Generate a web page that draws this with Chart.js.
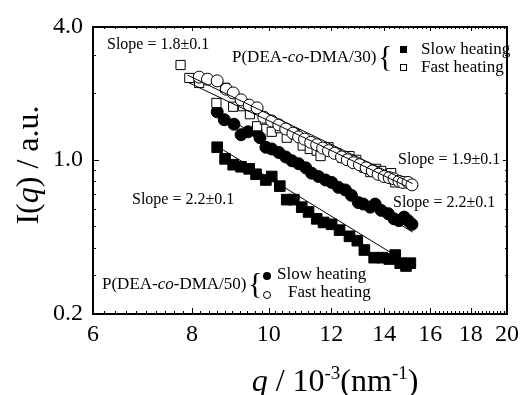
<!DOCTYPE html>
<html>
<head>
<meta charset="utf-8">
<script src="https://cdn.jsdelivr.net/npm/chart.js@4.4.1/dist/chart.umd.min.js"></script>
<style>
  html, body { margin: 0; padding: 0; background: #fff; }
</style>
</head>
<body>
<canvas id="myChart" width="525" height="395"></canvas>
<script>
// q in 10^-3 nm^-1, I(q) in a.u.

// P(DEA-co-DMA/30), slow heating (filled squares)
const qSlow30 = [8.61, 8.81, 9.02, 9.23, 9.45, 9.64, 9.92, 10.09, 10.33, 10.54, 10.76, 11.01, 11.23, 11.50, 11.73, 12.01, 12.29, 12.65, 12.94, 13.21, 13.59, 13.91, 14.20, 14.45, 14.66, 14.91, 15.10];
const iSlow30 = [1.14, 1.01, 0.95, 0.93, 0.91, 0.86, 0.81, 0.84, 0.76, 0.66, 0.66, 0.61, 0.58, 0.54, 0.52, 0.51, 0.48, 0.45, 0.43, 0.39, 0.36, 0.36, 0.355, 0.37, 0.34, 0.33, 0.34];

// P(DEA-co-DMA/30), fast heating (open squares)
const qFast30 = [7.74, 7.94, 8.17, 8.59, 8.81, 9.02, 9.28, 9.47, 9.67, 9.89, 10.09, 10.33, 10.54, 10.79, 11.04, 11.27, 11.50, 11.63, 11.90, 12.18, 12.39, 12.65, 12.90, 13.21, 13.44, 13.67, 13.87, 14.12, 14.28, 14.45];
const iFast30 = [2.69, 2.35, 2.23, 1.81, 2.12, 1.74, 1.75, 1.61, 1.42, 1.52, 1.34, 1.39, 1.26, 1.31, 1.16, 1.12, 1.10, 1.04, 1.14, 1.07, 1.02, 1.04, 1.00, 0.92, 0.88, 0.91, 0.89, 0.84, 0.87, 0.79];

// P(DEA-co-DMA/50), slow heating (filled circles)
const qSlow50 = [8.61, 8.79, 9.04, 9.23, 9.42, 9.64, 9.75, 9.92, 10.09, 10.30, 10.51, 10.70, 10.91, 11.14, 11.33, 11.56, 11.80, 12.01, 12.25, 12.50, 12.72, 12.98, 13.17, 13.44, 13.63, 13.87, 14.16, 14.40, 14.61, 14.83, 15.00, 15.17];
const iSlow50 = [1.65, 1.52, 1.45, 1.30, 1.34, 1.35, 1.26, 1.14, 1.12, 1.08, 1.03, 0.99, 0.96, 0.92, 0.87, 0.84, 0.81, 0.79, 0.75, 0.73, 0.69, 0.64, 0.63, 0.61, 0.63, 0.59, 0.57, 0.54, 0.53, 0.55, 0.53, 0.51];

// P(DEA-co-DMA/50), fast heating (open circles)
const qFast50 = [8.17, 8.37, 8.61, 8.84, 9.02, 9.23, 9.45, 9.67, 9.86, 10.09, 10.30, 10.51, 10.73, 10.91, 11.10, 11.30, 11.50, 11.70, 11.90, 12.11, 12.36, 12.57, 12.79, 13.02, 13.28, 13.52, 13.75, 13.99, 14.20, 14.40, 14.61, 14.78, 15.00, 15.17];
const iFast50 = [2.37, 2.32, 2.28, 2.09, 2.01, 1.87, 1.77, 1.72, 1.56, 1.50, 1.44, 1.38, 1.32, 1.27, 1.24, 1.20, 1.17, 1.13, 1.10, 1.07, 1.03, 1.00, 0.97, 0.95, 0.92, 0.89, 0.86, 0.84, 0.83, 0.82, 0.80, 0.79, 0.79, 0.77];

// power-law fit lines (end points)
const fitQSlow30 = [8.55, 15.2], fitISlow30 = [1.17, 0.33];
const fitQSlow50 = [8.55, 15.2], fitISlow50 = [1.68, 0.47];
const fitQFast50 = [7.9, 15.2],  fitIFast50 = [2.42, 0.78];
const fitQFast30 = [7.9, 14.9],  fitIFast30 = [2.25, 0.76];

// tick labels
const xTickValues = [6, 8, 10, 12, 14, 16, 18, 20];
const yTickValues = [0.2, 1.0, 4.0];

const SERIF = '"Liberation Serif", "Times New Roman", serif';
const pts = (xs, ys) => xs.map((x, i) => ({ x: x, y: ys[i] }));

function fitLine(xs, ys) {
  return {
    type: "line",
    data: pts(xs, ys),
    borderColor: "#000",
    borderWidth: 1,
    pointRadius: 0,
    fill: false,
  };
}

// draw text made of pieces in different fonts
function drawRuns(ctx, runs, x, y) {
  let cx = x;
  runs.forEach(([t, font, dy]) => {
    ctx.font = font;
    ctx.fillText(t, cx, y + (dy || 0));
    cx += ctx.measureText(t).width;
  });
}
function runsWidth(ctx, runs) {
  let w = 0;
  runs.forEach(([t, font]) => { ctx.font = font; w += ctx.measureText(t).width; });
  return w;
}

const f17 = "17px " + SERIF, i17 = "italic 17px " + SERIF;
const f16 = "16px " + SERIF;

const decor = {
  id: "decor",
  afterDraw(chart) {
    const { ctx, chartArea: a, scales: { x, y } } = chart;
    ctx.save();
    ctx.strokeStyle = "#000";
    ctx.fillStyle = "#000";

    // inward ticks, mirrored on top / right
    ctx.lineWidth = 1;
    ctx.beginPath();
    for (let k = 60; k <= 200; k += 2) {
      const v = k / 10;
      const p = Math.round(x.getPixelForValue(v)) + 0.5;
      const len = k % 20 === 0 ? 6 : 3;
      ctx.moveTo(p, a.bottom); ctx.lineTo(p, a.bottom - len);
      ctx.moveTo(p, a.top); ctx.lineTo(p, a.top + (k % 20 === 0 ? 4 : 2));
    }
    const yMinor = [0.2, 0.3, 0.4, 0.5, 0.6, 0.7, 0.8, 0.9, 1, 2, 3, 4];
    yMinor.forEach(v => {
      const p = Math.round(y.getPixelForValue(v)) + 0.5;
      const len = yTickValues.includes(v) ? 6 : 3;
      ctx.moveTo(a.left, p); ctx.lineTo(a.left + len, p);
      ctx.moveTo(a.right, p); ctx.lineTo(a.right - (len === 6 ? 4 : 2), p);
    });
    ctx.stroke();

    // frame
    ctx.lineWidth = 2;
    ctx.strokeRect(a.left, a.top, a.right - a.left, a.bottom - a.top);

    // annotations
    ctx.textBaseline = "middle";
    ctx.textAlign = "left";
    const L = a.left, T = a.top;
    ctx.font = f16;
    ctx.fillText("Slope = 1.8\u00b10.1", L + 14, T + 18);
    ctx.fillText("Slope = 1.9\u00b10.1", L + 305, T + 133);
    ctx.fillText("Slope = 2.2\u00b10.1", L + 300, T + 176);
    ctx.fillText("Slope = 2.2\u00b10.1", L + 39, T + 173);

    // legend block for /30
    drawRuns(ctx, [["P(DEA-", f17], ["co", i17], ["-DMA/30)", f17]], L + 139, T + 31);
    ctx.font = "30px " + SERIF;
    ctx.fillText("{", L + 285, T + 31);
    ctx.fillRect(L + 307, T + 19, 7, 7);
    ctx.lineWidth = 1;
    ctx.strokeRect(L + 307.5, T + 37.5, 6, 6);
    ctx.font = f17;
    ctx.fillText("Slow heating", L + 328, T + 23);
    ctx.fillText("Fast heating", L + 328, T + 41);

    // legend block for /50
    drawRuns(ctx, [["P(DEA-", f17], ["co", i17], ["-DMA/50)", f17]], L + 9, T + 258);
    ctx.font = "30px " + SERIF;
    ctx.fillText("{", L + 155, T + 258);
    ctx.beginPath(); ctx.arc(L + 174, T + 249, 4, 0, Math.PI * 2); ctx.fill();
    ctx.beginPath(); ctx.arc(L + 174, T + 268, 3.5, 0, Math.PI * 2); ctx.stroke();
    ctx.font = f17;
    ctx.fillText("Slow heating", L + 184, T + 248);
    ctx.fillText("Fast heating", L + 195, T + 266);

    // axis titles
    const big = "32px " + SERIF, bigI = "italic 32px " + SERIF, sup = "19px " + SERIF;
    const xt = [["q", bigI], [" / 10", big], ["-3", sup, -12], ["(nm", big], ["-1", sup, -12], [")", big]];
    ctx.textBaseline = "alphabetic";
    const xw = runsWidth(ctx, xt);
    drawRuns(ctx, xt, 335 - xw / 2, 391);

    const yt = [["I(", big], ["q", bigI], [") / a.u.", big]];
    const yw = runsWidth(ctx, yt);
    ctx.translate(38, 165);
    ctx.rotate(-Math.PI / 2);
    drawRuns(ctx, yt, -yw / 2, 0);
    ctx.restore();
  },
};

const ctx = document.getElementById("myChart").getContext("2d");
const myChart = new Chart(ctx, {
  type: "scatter",
  data: {
    datasets: [
      fitLine(fitQSlow30, fitISlow30),
      fitLine(fitQSlow50, fitISlow50),
      fitLine(fitQFast50, fitIFast50),
      fitLine(fitQFast30, fitIFast30),
      {
        label: "Fast heating /50",
        data: pts(qFast50, iFast50),
        pointStyle: "circle",
        pointRadius: 6,
        pointBackgroundColor: "#fff",
        pointBorderColor: "#000",
        pointBorderWidth: 1,
      },
      {
        label: "Fast heating /30",
        data: pts(qFast30, iFast30),
        pointStyle: "rect",
        pointRadius: 6.5,
        pointBackgroundColor: "#fff",
        pointBorderColor: "#000",
        pointBorderWidth: 1,
      },
      {
        label: "Slow heating /50",
        data: pts(qSlow50, iSlow50),
        pointStyle: "circle",
        pointRadius: 6,
        pointBackgroundColor: "#000",
        pointBorderColor: "#000",
      },
      {
        label: "Slow heating /30",
        data: pts(qSlow30, iSlow30),
        pointStyle: "rect",
        pointRadius: 7.5,
        pointBackgroundColor: "#000",
        pointBorderColor: "#000",
      },
    ],
  },
  options: {
    responsive: false,
    animation: false,
    devicePixelRatio: 1,
    layout: { padding: { left: 0, right: 15, top: 27, bottom: 0 } },
    plugins: { legend: { display: false }, tooltip: { enabled: false } },
    scales: {
      x: {
        type: "logarithmic",
        min: 6,
        max: 20,
        grid: { display: false, drawTicks: false },
        border: { display: false },
        afterBuildTicks: (s) => { s.ticks = xTickValues.map(v => ({ value: v })); },
        afterFit: (s) => { s.height = 81; },
        ticks: {
          autoSkip: false,
          maxRotation: 0,
          padding: 6,
          color: "#000",
          font: { family: SERIF, size: 24 },
          callback: (v) => String(v),
        },
      },
      y: {
        type: "logarithmic",
        min: 0.2,
        max: 4,
        grid: { display: false, drawTicks: false },
        border: { display: false },
        afterBuildTicks: (s) => { s.ticks = yTickValues.map(v => ({ value: v })); },
        afterFit: (s) => { s.width = 93; },
        ticks: {
          autoSkip: false,
          padding: 10,
          color: "#000",
          font: { family: SERIF, size: 24 },
          callback: (v) => Number(v).toFixed(1),
        },
      },
    },
  },
  plugins: [decor],
});
</script>
</body>
</html>
